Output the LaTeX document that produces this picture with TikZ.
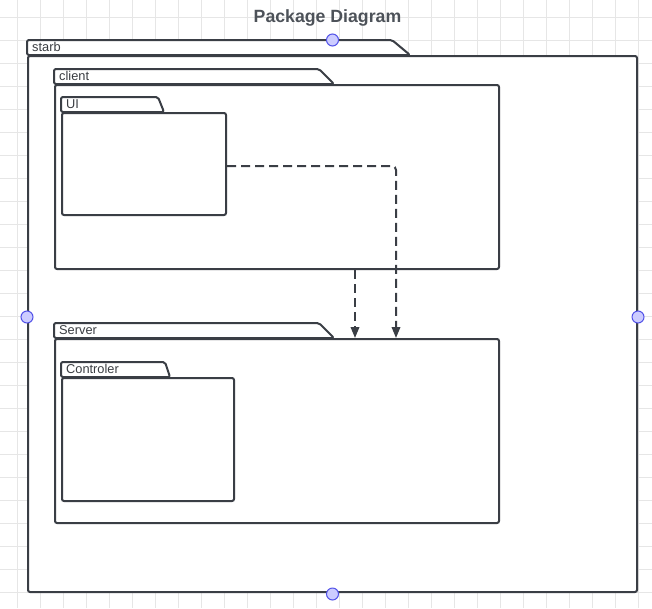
\documentclass[tikz,border=0pt]{standalone}
\usepackage{fontspec}
\setmainfont{Liberation Sans}
\usepackage{tikz}
\usetikzlibrary{positioning}
\usetikzlibrary{arrows.meta}

\definecolor{linecol}{HTML}{3A3E45}
\definecolor{textcol}{HTML}{3A3D42}
\definecolor{titlecol}{HTML}{4D5259}
\definecolor{gridcol}{HTML}{E6E6E6}
\definecolor{handlefill}{HTML}{CCCCFF}
\definecolor{handledraw}{HTML}{5252E8}

\tikzset{
  pkg/.style={draw=linecol,fill=white,line width=2pt,rounded corners=2pt,inner sep=0pt},
  tabline/.style={draw=linecol,fill=white,line width=2pt,rounded corners=2pt,line join=round},
  pkglabel/.style={text=textcol,font=\fontsize{12.8}{15}\selectfont,anchor=base west,inner sep=0pt},
  dep/.style={draw=linecol,line width=2pt,dash pattern=on 9pt off 5pt,rounded corners=4pt,
    -{Triangle[length=11pt,width=8.5pt]}},
  handle/.style={circle,draw=handledraw,fill=handlefill,line width=1pt,minimum size=12pt,inner sep=0pt}
}

\begin{document}
\begin{tikzpicture}[x=1pt,y=-1pt]
\useasboundingbox[fill=white] (0,0) rectangle (652,608);

% background grid
\foreach \i in {0,...,27} \draw[gridcol,line width=1pt] (17+23*\i,0) -- ++(0,608);
\foreach \j in {0,...,25} \draw[gridcol,line width=1pt] (0,17+23*\j) -- ++(652,0);

\node[text=titlecol,font=\fontsize{17.7}{20}\selectfont\bfseries,anchor=base] (title) at (327.5,22.5) {Package Diagram};

% outer package
\node[pkg,minimum width=609pt,minimum height=536pt] (starb) at (332.5,324) {};
\draw[tabline] (starb.north west) -- ++(0,-15) -- ++(365,0) -- ++(18,15) -- cycle;
\node[pkglabel] (starblbl) at ([xshift=5pt,yshift=4pt]starb.north west) {starb};

% client
\node[pkg,minimum width=444pt,minimum height=184pt] (client) at (277,177) {};
\draw[tabline] (client.north west) -- ++(0,-15) -- ++(265,0) -- ++(15,15) -- cycle;
\node[pkglabel] (clientlbl) at ([xshift=5pt,yshift=4pt]client.north west) {client};

\node[pkg,minimum width=164pt,minimum height=102pt] (UI) at (144,164) {};
\draw[tabline] (UI.north west) -- ++(0,-15) -- ++(97,0) -- ++(6,15) -- cycle;
\node[pkglabel] (UIlbl) at ([xshift=5pt,yshift=4pt]UI.north west) {UI};

% server
\node[pkg,minimum width=444pt,minimum height=184pt] (Server) at (277,431) {};
\draw[tabline] (Server.north west) -- ++(0,-15) -- ++(265,0) -- ++(15,15) -- cycle;
\node[pkglabel] (Serverlbl) at ([xshift=5pt,yshift=4pt]Server.north west) {Server};

\node[pkg,minimum width=172pt,minimum height=123pt] (Controler) at (148,439.5) {};
\draw[tabline] (Controler.north west) -- ++(0,-15) -- ++(104,0) -- ++(5,15) -- cycle;
\node[pkglabel] (Controlerlbl) at ([xshift=5pt,yshift=4pt]Controler.north west) {Controler};

% dependencies
\draw[dep] ([yshift=-2pt]UI.east) -| ([xshift=119pt]Server.north);
\draw[dep] ([xshift=78pt]client.south) -- ([xshift=78pt]Server.north);

% selection handles
\node[handle] (htop) at (332.5,40) {};
\node[handle] (hleft) at (27,317) {};
\node[handle] (hright) at (638,317) {};
\node[handle] (hbottom) at (332.5,594) {};
\end{tikzpicture}
\end{document}
